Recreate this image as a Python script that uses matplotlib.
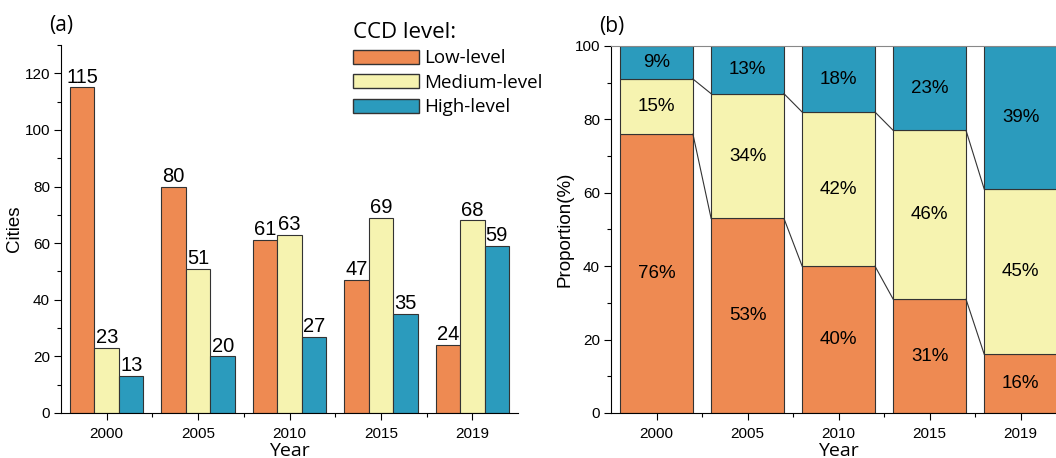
import numpy as np
import matplotlib.pyplot as plt
from matplotlib.patches import Patch
from matplotlib.ticker import MultipleLocator

# number of cities per CCD level
years = ['2000', '2005', '2010', '2015', '2019']
low_level = [115, 80, 61, 47, 24]
medium_level = [23, 51, 63, 69, 68]
high_level = [13, 20, 27, 35, 59]

# share of each level (%)
low_pct = [76, 53, 40, 31, 16]
medium_pct = [15, 34, 42, 46, 45]
high_pct = [9, 13, 18, 23, 39]

c_low = '#EE8A52'
c_med = '#F6F3B0'
c_high = '#2B9BBD'
edge = '#333333'
seg = ['Open Sans', 'DejaVu Sans']

plt.rcParams['font.family'] = ['Liberation Sans', 'DejaVu Sans']

fig = plt.figure(figsize=(10.56, 4.58), dpi=100)
ax1 = fig.add_axes([0.0578, 0.0983, 0.4328, 0.8035])
ax2 = fig.add_axes([0.5786, 0.0983, 0.4310, 0.8013])

x = np.arange(len(years))
w = 0.268

# ---- (a) grouped bars ----
for off, vals, col in [(-w, low_level, c_low), (0, medium_level, c_med), (w, high_level, c_high)]:
    bars = ax1.bar(x + off, vals, width=w, color=col, edgecolor=edge, linewidth=0.8)
    for b, v in zip(bars, vals):
        ax1.text(b.get_x() + b.get_width() / 2, v + 0.3, str(v),
                 ha='center', va='bottom', fontsize=14.5)

ax1.set_xlim(-0.5, 4.5)
ax1.set_ylim(0, 130)
ax1.yaxis.set_major_locator(MultipleLocator(20))
ax1.yaxis.set_minor_locator(MultipleLocator(10))
ax1.set_xticks(x)
ax1.set_xticklabels(years)
ax1.set_xticks(x[:-1] + 0.5, minor=True)
ax1.spines['top'].set_visible(False)
ax1.spines['right'].set_visible(False)
ax1.set_ylabel('Cities', fontsize=13.5, labelpad=1)
ax1.set_xlabel('Year', fontsize=14, family=seg)
ax1.xaxis.set_label_coords(0.5, -0.078)
ax1.text(-0.025, 1.025, '(a)', transform=ax1.transAxes, fontsize=15,
         family=seg, ha='left', va='bottom')

# ---- (b) stacked proportions ----
bw = 0.8
low_arr = np.array(low_pct)
med_arr = np.array(medium_pct)
high_arr = np.array(high_pct)
ax2.bar(x, low_arr, width=bw, color=c_low, edgecolor=edge, linewidth=0.8)
ax2.bar(x, med_arr, width=bw, bottom=low_arr, color=c_med, edgecolor=edge, linewidth=0.8)
ax2.bar(x, high_arr, width=bw, bottom=low_arr + med_arr, color=c_high, edgecolor=edge, linewidth=0.8)

for i in range(len(years)):
    ax2.text(x[i], low_arr[i] / 2, f'{low_pct[i]}%', ha='center', va='center', fontsize=13.5)
    ax2.text(x[i], low_arr[i] + med_arr[i] / 2, f'{medium_pct[i]}%', ha='center', va='center', fontsize=13.5)
    ax2.text(x[i], low_arr[i] + med_arr[i] + high_arr[i] / 2, f'{high_pct[i]}%',
             ha='center', va='center', fontsize=13.5)

# links between neighbouring stacks
cum1 = low_arr
cum2 = low_arr + med_arr
for i in range(len(years) - 1):
    for cum in (cum1, cum2):
        ax2.plot([x[i] + bw / 2, x[i + 1] - bw / 2], [cum[i], cum[i + 1]],
                 color=edge, linewidth=0.8)

ax2.set_xlim(-0.5, 4.5)
ax2.set_ylim(0, 100)
ax2.yaxis.set_major_locator(MultipleLocator(20))
ax2.yaxis.set_minor_locator(MultipleLocator(10))
ax2.set_xticks(x)
ax2.set_xticklabels(years)
ax2.set_xticks(x[:-1] + 0.5, minor=True)
ax2.spines['right'].set_visible(False)
ax2.spines['top'].set_color('#888888')
ax2.set_ylabel('Proportion(%)', fontsize=13.5, labelpad=1)
ax2.set_xlabel('Year', fontsize=14, family=seg)
ax2.xaxis.set_label_coords(0.5, -0.078)
ax2.text(-0.025, 1.025, '(b)', transform=ax2.transAxes, fontsize=15,
         family=seg, ha='left', va='bottom')

for ax in (ax1, ax2):
    ax.tick_params(which='major', direction='out', length=5, width=0.8, labelsize=11, pad=5)
    ax.tick_params(which='minor', direction='out', length=3, width=0.8)
    ax.tick_params(axis='y', which='major', pad=3)

handles = [Patch(facecolor=c_low, edgecolor=edge, label='Low-level'),
           Patch(facecolor=c_med, edgecolor=edge, label='Medium-level'),
           Patch(facecolor=c_high, edgecolor=edge, label='High-level')]
leg = fig.legend(handles=handles, title='CCD level:', loc='upper left',
                 bbox_to_anchor=(0.329, 0.965), frameon=False,
                 prop={'family': seg, 'size': 13.5},
                 title_fontproperties={'family': seg, 'size': 16},
                 handlelength=3.5, handleheight=0.8, handletextpad=0.3,
                 labelspacing=0.35, borderpad=0.1, borderaxespad=0.2)
leg._legend_box.align = 'left'

fig.savefig('out.png', dpi=100)
